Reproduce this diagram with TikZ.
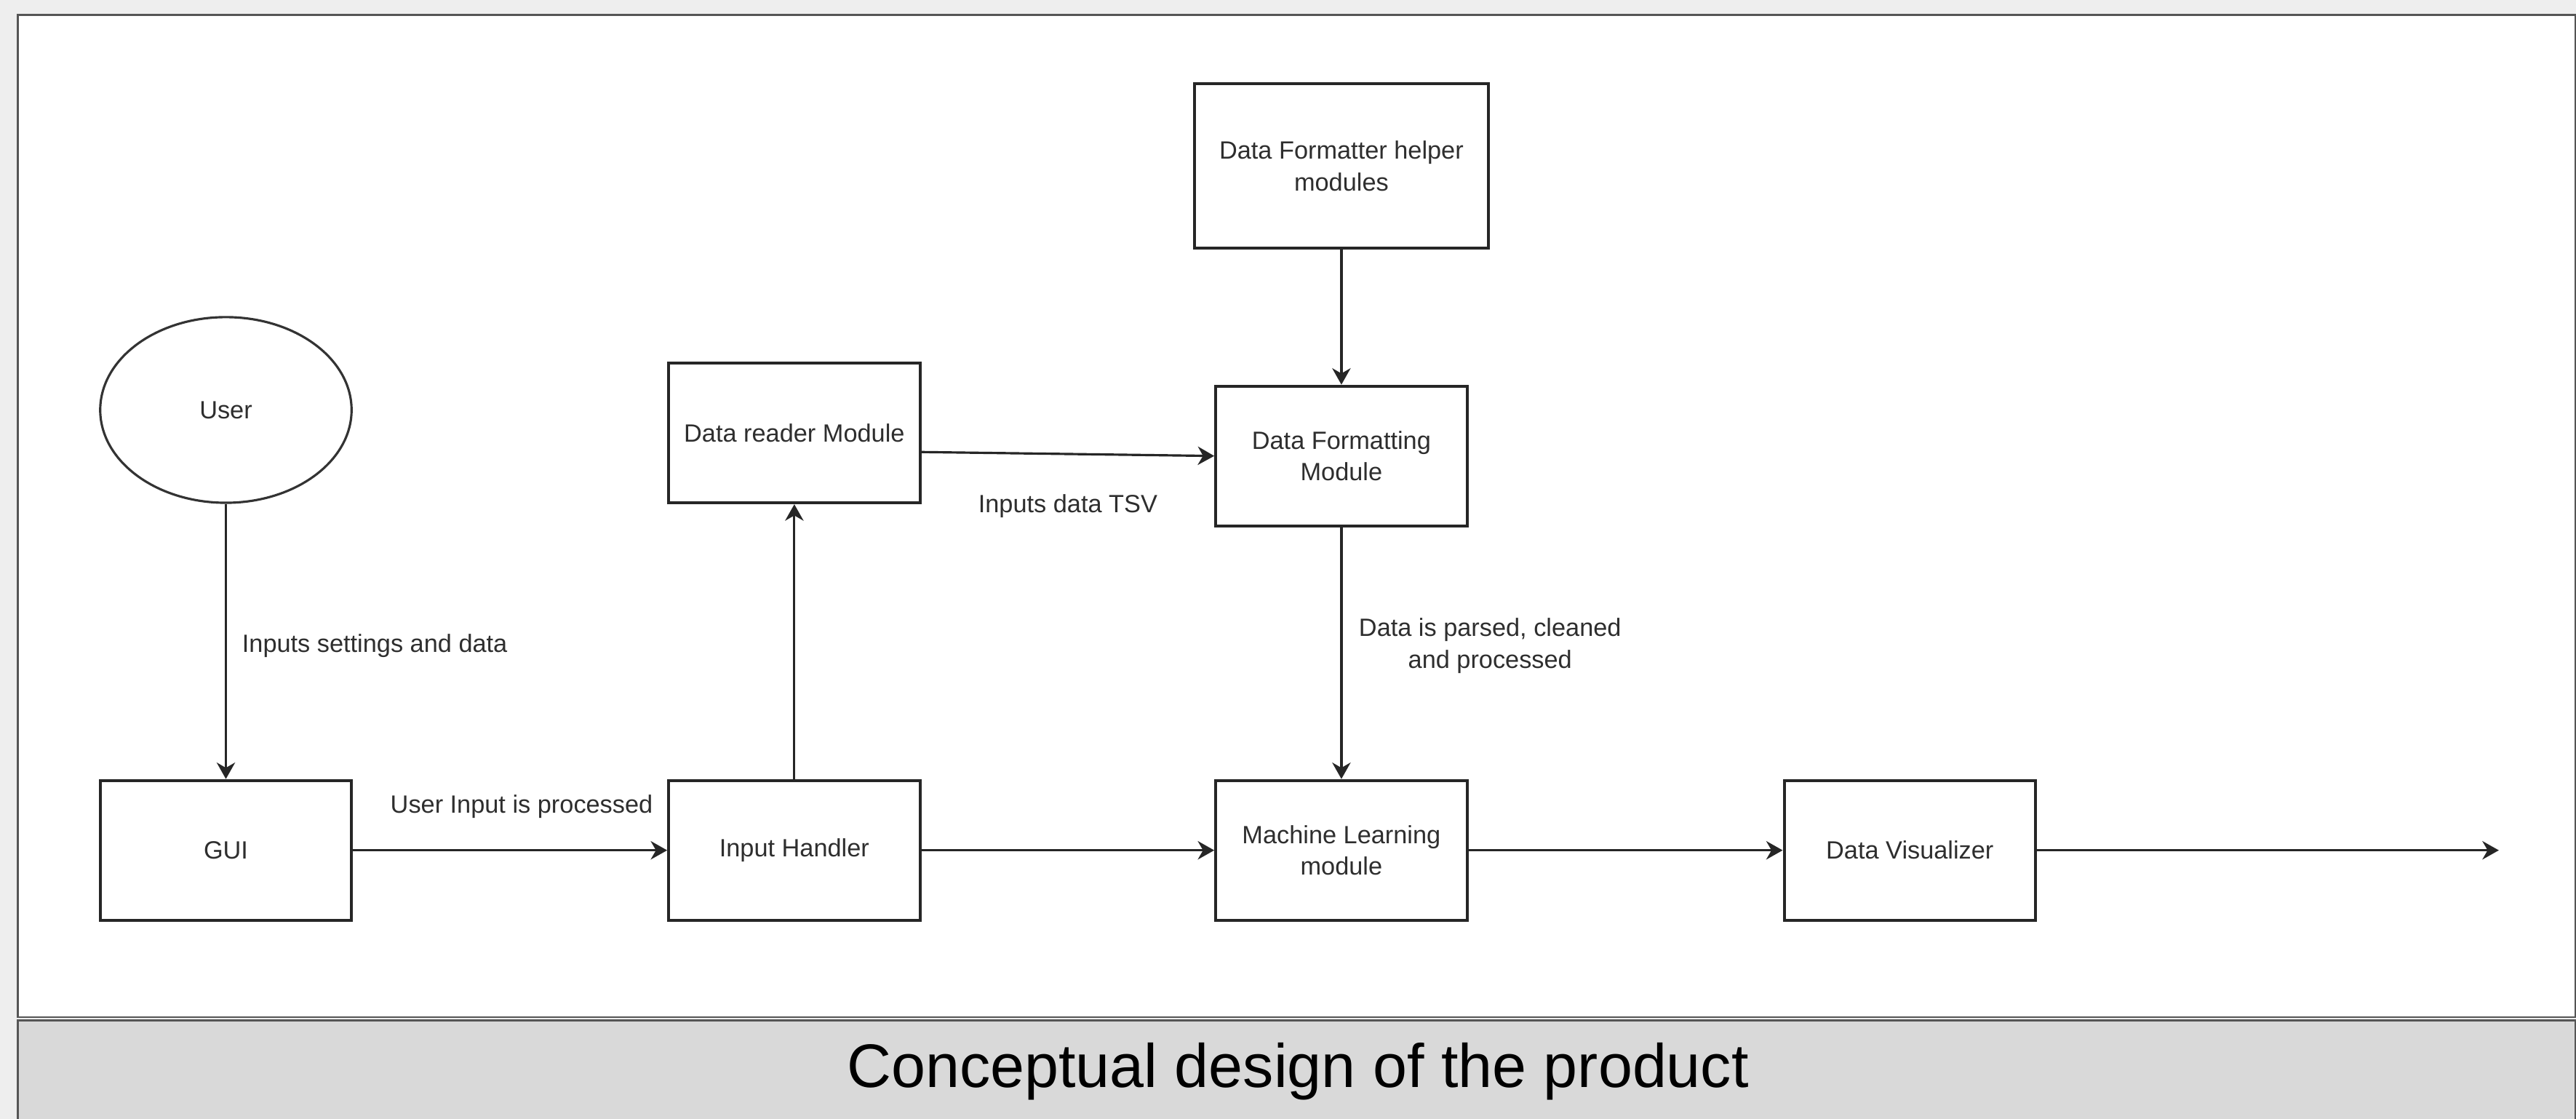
\documentclass[tikz,border=0pt]{standalone}
\usepackage{fontspec}
\setmainfont{Liberation Sans}
\usetikzlibrary{shapes.geometric,arrows.meta}
\definecolor{bgout}{HTML}{EEEEEE}
\definecolor{capfill}{HTML}{D9D9D9}
\definecolor{framec}{HTML}{555555}
\definecolor{txt}{HTML}{2E2E2E}
\begin{document}
\begin{tikzpicture}[x=0.5pt,y=-0.5pt,
  every node/.style={font=\fontsize{7.6}{9.6}\selectfont, text=txt},
  blk/.style={draw=black!85, line width=0.9pt, fill=white, minimum width=76.5pt, minimum height=42.5pt, inner sep=1pt, align=center},
  usr/.style={ellipse, draw=black!80, line width=0.7pt, fill=white, minimum width=76.5pt, minimum height=56.5pt, inner sep=0pt},
  conn/.style={draw=black!85, line width=0.7pt, -{Stealth[length=5pt,width=5.6pt,inset=1.6pt]}},
  lbl/.style={inner sep=1pt, align=center}]
\useasboundingbox (0,0) rectangle (1568,681);
\fill[bgout] (0,0) rectangle (1568,681);
\draw[framec, line width=0.6pt, fill=white] (11,9) rectangle (1567.5,619);
\draw[framec, line width=0.6pt, fill=capfill] (11,621) rectangle (1567.5,684);
\node[font=\fontsize{18.7}{22}\selectfont, text=black] (cap) at (790,652) {Conceptual design of the product};

\node[usr] (user) at (137.5,249.5) {User};
\node[blk] (gui) at (137.5,517.5) {GUI};
\node[blk] (ih) at (483.5,517.5) {Input Handler};
\node[blk] (dr) at (483.5,263.5) {Data reader Module};
\node[blk, minimum width=89.5pt, minimum height=50pt] (dfh) at (816.5,101) {Data Formatter helper\\modules};
\node[blk] (df) at (816.5,277.5) {Data Formatting\\Module};
\node[blk] (ml) at (816.5,517.5) {Machine Learning\\module};
\node[blk] (dv) at (1162.5,517.5) {Data Visualizer};
\coordinate (out) at (1521,517.5);

\draw[conn] (user) -- (gui);
\draw[conn] (gui) -- (ih);
\draw[conn] (ih) -- (dr);
\draw[conn] ([yshift=-5.8pt]dr.east) -- (df.west);
\draw[conn] (dfh) -- (df);
\draw[conn] (df) -- (ml);
\draw[conn] (ih) -- (ml);
\draw[conn] (ml) -- (dv);
\draw[conn] (dv) -- (out);

\node[lbl, anchor=west] (l1) at (145,393) {Inputs settings and data};
\node[lbl] (l2) at (317.5,491) {User Input is processed};
\node[lbl] (l3) at (650,308) {Inputs data TSV};
\node[lbl] (l4) at (907,393) {Data is parsed, cleaned\\and processed};
\end{tikzpicture}
\end{document}
